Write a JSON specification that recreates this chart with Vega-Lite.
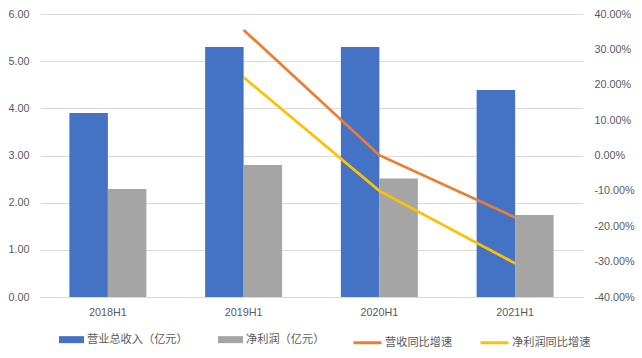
{
  "$schema": "https://vega.github.io/schema/vega-lite/v6.json",
  "width": 543,
  "height": 283,
  "autosize": {"type": "none"},
  "padding": {"left": 40, "top": 14, "right": 59, "bottom": 61},
  "background": "white",
  "config": {
    "view": {"stroke": null},
    "font": "Liberation Sans",
    "axis": {"labelColor": "#595959", "labelFont": "Liberation Sans", "labelFontSize": 10.8, "title": null}
  },
  "datasets": {
    "bars": [
      {"period": "2018H1", "series": "营业总收入（亿元）", "value": 3.90},
      {"period": "2018H1", "series": "净利润（亿元）", "value": 2.29},
      {"period": "2019H1", "series": "营业总收入（亿元）", "value": 5.30},
      {"period": "2019H1", "series": "净利润（亿元）", "value": 2.80},
      {"period": "2020H1", "series": "营业总收入（亿元）", "value": 5.30},
      {"period": "2020H1", "series": "净利润（亿元）", "value": 2.51},
      {"period": "2021H1", "series": "营业总收入（亿元）", "value": 4.39},
      {"period": "2021H1", "series": "净利润（亿元）", "value": 1.74}
    ],
    "lines": [
      {"period": "2019H1", "series": "营收同比增速", "growth": 35.5},
      {"period": "2020H1", "series": "营收同比增速", "growth": 0.1},
      {"period": "2021H1", "series": "营收同比增速", "growth": -17.5},
      {"period": "2019H1", "series": "净利润同比增速", "growth": 22.1},
      {"period": "2020H1", "series": "净利润同比增速", "growth": -10.0},
      {"period": "2021H1", "series": "净利润同比增速", "growth": -30.5}
    ]
  },
  "layer": [
    {
      "data": {"name": "bars"},
      "mark": {"type": "bar"},
      "encoding": {
        "x": {
          "field": "period",
          "type": "nominal",
          "scale": {"paddingInner": 0.433, "paddingOuter": 0.2165},
          "axis": {"labelAngle": 0, "ticks": false, "domainColor": "#d9d9d9", "domainWidth": 1, "labelPadding": 9, "grid": false}
        },
        "xOffset": {
          "field": "series",
          "type": "nominal",
          "sort": ["营业总收入（亿元）", "净利润（亿元）"],
          "scale": {"paddingInner": 0, "paddingOuter": 0}
        },
        "y": {
          "field": "value",
          "type": "quantitative",
          "scale": {"domain": [0, 6], "nice": false},
          "axis": {"values": [0, 1, 2, 3, 4, 5, 6], "format": ".2f", "domain": false, "ticks": false, "grid": true, "gridColor": "#d9d9d9", "gridWidth": 1, "labelPadding": 11}
        },
        "color": {
          "field": "series",
          "type": "nominal",
          "scale": {"domain": ["营业总收入（亿元）", "净利润（亿元）"], "range": ["#4472C4", "#A5A5A5"]},
          "legend": {
            "orient": "none", "legendX": 19, "legendY": 313, "direction": "horizontal", "columns": 2,
            "columnPadding": 30, "symbolType": "M-1,-0.28H1V0.28H-1Z", "symbolSize": 625, "symbolStrokeWidth": 0,
            "labelOffset": 3, "labelFont": "Noto Sans CJK SC", "labelFontSize": 11.2, "labelColor": "#595959",
            "title": null, "padding": 0
          }
        }
      }
    },
    {
      "data": {"name": "lines"},
      "mark": {"type": "line", "strokeWidth": 2.75},
      "encoding": {
        "x": {"field": "period", "type": "nominal"},
        "y": {
          "field": "growth",
          "type": "quantitative",
          "scale": {"domain": [-40, 40], "nice": false},
          "axis": {
            "orient": "right", "values": [-40, -30, -20, -10, 0, 10, 20, 30, 40], "domain": false, "ticks": false, "grid": false,
            "labelPadding": 11,
            "labelExpr": "datum.value < 0 ? '-' + format(-datum.value, '.2f') + '%' : format(datum.value, '.2f') + '%'"
          }
        },
        "color": {
          "field": "series",
          "type": "nominal",
          "scale": {"domain": ["营收同比增速", "净利润同比增速"], "range": ["#ED7D31", "#FFC000"]},
          "legend": {
            "orient": "none", "legendX": 312, "legendY": 313, "direction": "horizontal", "columns": 2,
            "columnPadding": 21, "symbolType": "stroke", "symbolSize": 784, "symbolStrokeWidth": 3,
            "labelOffset": 2, "labelFont": "Noto Sans CJK SC", "labelFontSize": 11.2, "labelColor": "#595959",
            "title": null, "padding": 0
          }
        }
      }
    }
  ],
  "resolve": {"scale": {"y": "independent", "color": "independent"}}
}
